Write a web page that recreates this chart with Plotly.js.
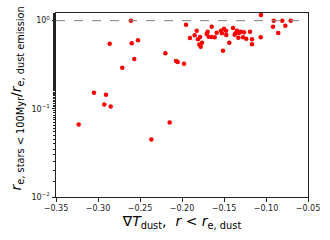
<!DOCTYPE html>
<html><head><meta charset="utf-8">
<script src="https://cdn.plot.ly/plotly-3.0.1.min.js"></script>
<style>html,body{margin:0;padding:0;background:#fff}</style>
</head><body>
<div id="chart" style="width:330px;height:240px"></div>
<script>
const gradT = [-0.2607,-0.1952,-0.1905,-0.2861,-0.2599,-0.2524,-0.2568,-0.2711,-0.2198,-0.2071,-0.2051,-0.1976,-0.3048,-0.2905,-0.2925,-0.2849,-0.3230,-0.2365,-0.2147,
 -0.1060,-0.0908,-0.0806,-0.0706,-0.0917,-0.0770,-0.0854,-0.1063,-0.1167,-0.1167,-0.1190,-0.1235,-0.1262,-0.1301,-0.1274,-0.1330,-0.1345,-0.1365,-0.1373,-0.1321,
 -0.1393,-0.1437,-0.1473,-0.1476,-0.1500,-0.1536,-0.1524,-0.1512,-0.1587,-0.1646,-0.1611,-0.1651,-0.1682,-0.1694,-0.1706,-0.1762,-0.1794,-0.1777,-0.1786,-0.1810,
 -0.1825,-0.1849];
const ratio = [1.0,0.90,0.636,0.548,0.553,0.60,0.367,0.292,0.426,0.348,0.34,0.325,0.152,0.144,0.112,0.106,0.0665,0.045,0.070,
 1.16,1.0,1.0,1.0,0.855,0.877,0.725,0.647,0.615,0.54,0.75,0.624,0.738,0.75,0.647,0.641,0.77,0.719,0.693,0.725,
 0.826,0.562,0.688,0.77,0.811,0.77,0.72,0.457,0.73,0.855,0.647,0.653,0.658,0.75,0.706,0.562,0.538,0.507,0.653,0.615,
 0.77,0.682];
const yTickVals = [0.01, 0.1, 1];
const yTickText = ['10<sup>−2</sup>', '10<sup>−1</sup>', '10<sup>0</sup>'];
const xTickVals = [-0.35,-0.30,-0.25,-0.20,-0.15,-0.10,-0.05];
const xTickText = ['−0.35','−0.30','−0.25','−0.20','−0.15','−0.10','−0.05'];
const refLine = 1;

const data = [{
  x: gradT, y: ratio, type: 'scatter', mode: 'markers',
  marker: {color: 'red', size: 4.5}, hoverinfo: 'skip'
}];
const axisCommon = {
  showline: true, linecolor: '#222', linewidth: 1, mirror: true,
  ticks: 'outside', ticklen: 3.5, tickcolor: '#222', showgrid: false, zeroline: false,
  tickfont: {family: 'DejaVu Sans', size: 8, color: '#222'}
};
const layout = {
  width: 330, height: 240,
  margin: {l: 56, r: 22, t: 13, b: 43},
  paper_bgcolor: '#fff', plot_bgcolor: '#fff', showlegend: false,
  xaxis: Object.assign({}, axisCommon, {
    range: [-0.35, -0.05], tickvals: xTickVals, ticktext: xTickText,
    title: {text: '∇<i>T</i><sub>dust</sub>,  <i>r</i> &lt; <i>r</i><sub>e, dust</sub>',
      font: {family: 'DejaVu Sans', size: 14, color: '#000'}, standoff: 3}
  }),
  yaxis: Object.assign({}, axisCommon, {
    type: 'log', range: [-2, 0.087], tickvals: yTickVals, ticktext: yTickText,
    minor: {ticks: 'outside', ticklen: 2, tickcolor: '#222', showgrid: false}
  }),
  annotations: [{
    xref: 'paper', yref: 'paper', x: -0.155, y: 0.535, xanchor: 'center', yanchor: 'middle',
    textangle: -90, showarrow: false,
    text: '<i>r</i><sub>e, stars &lt; 100Myr</sub>/<i>r</i><sub>e, dust emission</sub>',
    font: {family: 'DejaVu Sans', size: 14, color: '#000'}
  }],
  shapes: [{type: 'line', xref: 'paper', x0: 0, x1: 1, yref: 'y', y0: refLine, y1: refLine,
    line: {color: 'grey', width: 1, dash: 'dash'}}]
};
Plotly.newPlot('chart', data, layout, {staticPlot: true, displayModeBar: false});
</script>
</body></html>
